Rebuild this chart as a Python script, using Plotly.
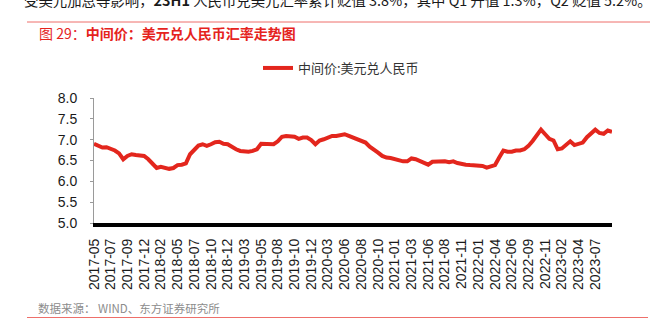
import plotly.graph_objects as go

# USD/CNY central parity, sampled every ~12 trading sessions (4 samples per axis tick)
series_name = "中间价:美元兑人民币"
rate = [
    6.90, 6.85, 6.81, 6.82, 6.78, 6.74, 6.67, 6.53, 6.61, 6.65,
    6.63, 6.63, 6.61, 6.53, 6.41, 6.32, 6.35, 6.33, 6.30, 6.32,
    6.39, 6.40, 6.43, 6.65, 6.77, 6.86, 6.89, 6.85, 6.89, 6.94,
    6.95, 6.90, 6.89, 6.82, 6.77, 6.73, 6.71, 6.71, 6.73, 6.77,
    6.90, 6.89, 6.89, 6.89, 6.96, 7.07, 7.09, 7.08, 7.07, 7.02,
    7.05, 7.05, 6.99, 6.89, 6.98, 7.01, 7.06, 7.09, 7.09, 7.10,
    7.13, 7.09, 7.05, 7.01, 6.97, 6.93, 6.83, 6.77, 6.69, 6.61,
    6.57, 6.56, 6.53, 6.49, 6.48, 6.48, 6.55, 6.53, 6.49, 6.44,
    6.40, 6.47, 6.48, 6.48, 6.48, 6.46, 6.48, 6.44, 6.41, 6.40,
    6.39, 6.39, 6.38, 6.37, 6.33, 6.37, 6.39, 6.57, 6.74, 6.71,
    6.71, 6.74, 6.74, 6.77, 6.85, 6.97, 7.11, 7.24, 7.13, 7.02,
    6.98, 6.77, 6.79, 6.89, 6.96, 6.87, 6.89, 6.93, 7.06, 7.14,
    7.24, 7.16, 7.14, 7.22, 7.19,
]

tick_labels = [
    "2017-05", "2017-07", "2017-09", "2017-12", "2018-02", "2018-05",
    "2018-07", "2018-10", "2018-12", "2019-03", "2019-05", "2019-08",
    "2019-10", "2019-12", "2020-03", "2020-06", "2020-08", "2020-10",
    "2021-01", "2021-03", "2021-06", "2021-08", "2021-11", "2022-01",
    "2022-04", "2022-06", "2022-09", "2022-11", "2023-02", "2023-04",
    "2023-07",
]

SAMPLES_PER_TICK = 4
session = list(range(len(rate)))
tick_pos = [i * SAMPLES_PER_TICK for i in range(len(tick_labels))]

W, H = 655, 333
L, R, T, B = 94, 43, 98, 110
PW, PH = W - L - R, H - T - B


def px(x):
    return (x - L) / PW


def py(y):
    return (H - B - y) / PH


FONT = "Liberation Sans, Arial, Noto Sans CJK SC, sans-serif"
CJK = "Noto Sans CJK SC, Liberation Sans, sans-serif"

fig = go.Figure()
fig.add_trace(go.Scatter(
    x=session, y=rate, mode="lines", name=series_name,
    line=dict(color="#E3261D", width=4),
))

fig.update_layout(
    width=W, height=H,
    margin=dict(l=L, r=R, t=T, b=B, pad=0),
    paper_bgcolor="white", plot_bgcolor="white",
    font=dict(family=FONT, size=14, color="#1a1a1a"),
    showlegend=True,
    legend=dict(
        x=px(258), y=py(68), xanchor="left", yanchor="middle",
        orientation="h", bgcolor="rgba(0,0,0,0)",
        font=dict(family=CJK, size=13, color="#333333"),
    ),
    xaxis=dict(
        range=[0, len(rate) - 1],
        tickvals=tick_pos, ticktext=tick_labels,
        tickangle=-90, ticks="", showgrid=False, zeroline=False,
        showline=True, linecolor="black", linewidth=4,
        tickfont=dict(size=14, color="#1a1a1a"),
        ticklabelstandoff=6,
    ),
    yaxis=dict(
        range=[5, 8], dtick=0.5, tickformat=".1f",
        showgrid=False, zeroline=False,
        showline=True, linecolor="#9a9a9a", linewidth=1,
        ticks="outside", ticklen=3, tickcolor="#9a9a9a",
        tickfont=dict(size=14, color="#1a1a1a"),
        ticklabelstandoff=10,
    ),
)

# page header, figure caption and source note
fig.add_annotation(
    x=px(22), y=py(-1), xref="paper", yref="paper",
    xanchor="left", yanchor="middle", showarrow=False,
    text="受美元加息等影响，<b>23H1</b> 人民币兑美元汇率累计贬值 3.8%，其中 Q1 升值 1.3%，Q2 贬值 5.2%。",
    font=dict(family=CJK, size=14.4, color="#1a1a1a"),
)
fig.add_shape(type="line", xref="paper", yref="paper",
              x0=px(27), x1=px(650), y0=py(22), y1=py(22),
              line=dict(color="#EE6F6A", width=1))
fig.add_annotation(
    x=px(37), y=py(33), xref="paper", yref="paper",
    xanchor="left", yanchor="middle", showarrow=False,
    text="图 29：<b>中间价：美元兑人民币汇率走势图</b>",
    font=dict(family=CJK, size=14, color="#E5231D"),
)
fig.add_annotation(
    x=px(36), y=py(308), xref="paper", yref="paper",
    xanchor="left", yanchor="middle", showarrow=False,
    text="数据来源： WIND、东方证券研究所",
    font=dict(family=CJK, size=11.5, color="#8c8c8c"),
)
fig.add_shape(type="line", xref="paper", yref="paper",
              x0=px(27), x1=px(648), y0=py(317.5), y1=py(317.5),
              line=dict(color="#EE6F6A", width=1))

fig.write_html("out.html")
